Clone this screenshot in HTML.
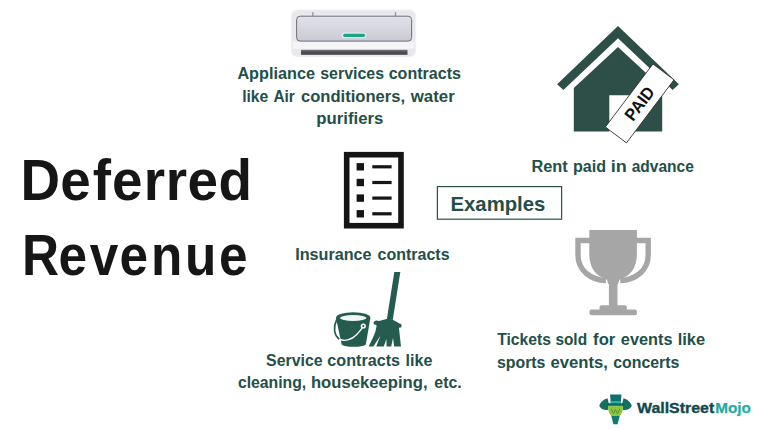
<!DOCTYPE html>
<html><head><meta charset="utf-8">
<style>
html,body{margin:0;padding:0;background:#fff;}
body{width:766px;height:429px;overflow:hidden;}
svg{display:block}
text{font-family:"Liberation Sans",sans-serif;font-weight:bold;}
</style></head><body>
<svg width="766" height="429" viewBox="0 0 766 429">
<rect width="766" height="429" fill="#fff"/>
<defs>
<linearGradient id="acp" x1="0" y1="0" x2="0" y2="1"><stop offset="0" stop-color="#e1e1e7"/><stop offset="0.5" stop-color="#d6d6de"/><stop offset="1" stop-color="#c9c9d4"/></linearGradient>
<linearGradient id="acv" x1="0" y1="0" x2="0" y2="1"><stop offset="0" stop-color="#74747e"/><stop offset="0.5" stop-color="#4c4c55"/><stop offset="1" stop-color="#45454d"/></linearGradient>
<linearGradient id="mj" x1="0" y1="0" x2="1" y2="0"><stop offset="0" stop-color="#178f8d"/><stop offset="1" stop-color="#22b3a6"/></linearGradient>
</defs>
<!-- AC unit -->
<g id="ac">
<rect x="290.6" y="9.2" width="125.6" height="48" rx="7" fill="#f4f4f6"/>
<rect x="291.8" y="10.2" width="123.4" height="46.4" rx="6" fill="#e9e9ed"/>
<rect x="293" y="41.8" width="121" height="7" fill="#f5f5f8"/>
<rect x="312.2" y="12" width="1.3" height="4.2" fill="#94949c"/>
<rect x="394.8" y="12" width="1.3" height="4.2" fill="#94949c"/>
<rect x="296.6" y="16.2" width="115" height="24.9" rx="3.5" fill="url(#acp)" stroke="#6f6f7a" stroke-width="1"/>
<rect x="341.6" y="32.6" width="25" height="5.6" rx="2.8" fill="#e4f1ee" opacity="0.8"/>
<rect x="343.1" y="33.7" width="22" height="3.3" rx="1.65" fill="#1ba588"/>
<rect x="301" y="49.8" width="106.5" height="5" fill="url(#acv)"/>
</g>
<!-- House -->
<g id="house" fill="#2d4f47">
<polygon points="618,26.1 557.1,84.3 563.4,89.9 618,38.3 672.6,89.9 678.9,84.3"/>
<polygon points="618,47 573.8,88 573.8,131.5 609.3,131.5 609.3,95.3 633,95.3 633,131.5 662.2,131.5 662.2,88"/>
</g>
<g transform="translate(639.7,103.4) rotate(-53)">
<rect x="-39.5" y="-13.2" width="79" height="26.4" fill="#fff" stroke="#2a2a2a" stroke-width="0.8"/>
<text x="-18.8" y="5.9" font-size="17.2" fill="#111" textLength="37.2" lengthAdjust="spacingAndGlyphs">PAID</text>
</g>
<!-- Insurance list icon -->
<rect x="346.7" y="154.7" width="54.3" height="71" fill="#fff" stroke="#151515" stroke-width="5.6"/>
<g fill="#151515">
<rect x="356.6" y="163.1" width="7.4" height="7.4"/><rect x="372.3" y="165.2" width="19.3" height="3.2"/>
<rect x="356.6" y="178.8" width="7.4" height="7.4"/><rect x="372.3" y="180.9" width="19.3" height="3.2"/>
<rect x="356.6" y="194.4" width="7.4" height="7.4"/><rect x="372.3" y="196.5" width="19.3" height="3.2"/>
<rect x="356.6" y="210.1" width="7.4" height="7.4"/><rect x="372.3" y="212.2" width="19.3" height="3.2"/>
</g>
<!-- Examples box -->
<rect x="437.4" y="186.6" width="124.2" height="32.6" fill="#fff" stroke="#2b5248" stroke-width="1.2"/>
<!-- Bucket & mop -->
<g id="mop" fill="#245c4f">
<path d="M336.8,319.5 C333.4,326 333.4,335 339.4,339.2" fill="none" stroke="#245c4f" stroke-width="1.7"/>
<path d="M336.1,318.5 L370.3,318.5 L365.8,344.5 C363,347.6 344.5,347.6 341.7,344.5 Z"/>
<ellipse cx="353.2" cy="317.9" rx="17.2" ry="5.7"/>
<ellipse cx="353.2" cy="318" rx="13.2" ry="2.9" fill="#f1f5f3"/>
<path d="M339.4,339.2 C344,341.6 351.5,340.2 356.5,334.8 C359,332 361,329.6 362.3,327.8" fill="none" stroke="#fff" stroke-width="1.3"/>
<circle cx="363.3" cy="326" r="2.6" fill="#fff"/>
<circle cx="363.3" cy="326" r="1.1"/>
<polygon points="394.3,271.9 400.3,271.9 392.8,319.8 386.8,319.6"/>
<path d="M373.6,322.6 C373.9,320.4 377,319.8 379,321 L387.5,318.8 L392.2,319.4 L399.5,323.4 C402.2,323.8 402.4,327.2 400,327.7 L398.9,327.5 L401,346.4 L394.2,346.4 L393,338 L391.2,346.4 L386.6,346.4 L386.4,339 L383.8,346.4 L376.2,346.4 L380.5,335.5 L373.4,346.4 L368.7,346.4 C373,338 376.5,331 376.5,325 C375,325 373.3,324.4 373.6,322.6 Z"/>
</g>
<!-- Trophy -->
<g id="trophy" fill="#a6a6a6">
<path d="M589.3,230 H636.9 V254 C636.9,268 630,276.5 619.5,279.5 L618,284 H608.4 L606.8,279.5 C596.2,276.5 589.3,268 589.3,254 Z"/>
<path d="M590,240.5 H578 V255 C578,270 590,279.8 606,280.6" fill="none" stroke="#a6a6a6" stroke-width="5.4"/>
<path d="M636.2,240.5 H648.2 V255 C648.2,270 636.2,279.8 620.2,280.6" fill="none" stroke="#a6a6a6" stroke-width="5.4"/>
<rect x="608.9" y="280" width="8.6" height="27"/>
<rect x="599.6" y="305.3" width="27.2" height="6" rx="2"/>
<rect x="589.5" y="309.5" width="47.4" height="5.7" rx="2"/>
</g>
<!-- Logo icon -->
<g id="logo">
<path d="M599.2,405.8 C600.4,402 604,399.4 607.5,398.3 L608.8,403.4 L608.2,409.9 C604.6,410.6 600.5,409.2 599.2,405.8 Z" fill="#15705f"/>
<path d="M631.8,405.8 C630.6,402 627,399.4 623.5,398.3 L622.2,403.4 L622.8,409.9 C626.4,410.6 630.5,409.2 631.8,405.8 Z" fill="#15705f"/>
<path d="M608.2,405.5 H622.8 C623.3,410 622,414 619.5,416.3 H611.5 C609,414 607.7,410 608.2,405.5 Z" fill="#8cc63f"/>
<path d="M611.2,409 L613.6,413.5 L615.5,409.5 L617.4,413.5 L619.8,409" fill="none" stroke="#4f9a3a" stroke-width="1"/>
<path d="M611.3,416 H619.7 L617.6,424.3 H613.4 Z" fill="#157a6e"/>
<path d="M610,394.6 H621.5 L620.6,403.4 H610.9 Z" fill="#0f6e70"/>
<rect x="610.6" y="401" width="10.3" height="2.2" fill="#2ab58f"/>
<rect x="607.4" y="403.3" width="16.2" height="2.5" rx="1.2" fill="#0f5f66"/>
</g>
<text transform="translate(0 199.7) scale(0.9614 1)" x="21.25 62.80 96.48 116.42 149.41 172.35 195.00 227.16" y="0" font-size="57" fill="#161616">Deferred</text>
<text transform="translate(0 274.7) scale(0.8998 1)" x="24.44 64.97 99.74 132.82 167.90 205.74 243.45" y="0" font-size="57" fill="#161616">Revenue</text>
<text y="78.8" font-size="17.2" fill="#234f48"><tspan x="237.41" textLength="77.52" lengthAdjust="spacingAndGlyphs">Appliance</tspan> <tspan x="320.28" textLength="63.72" lengthAdjust="spacingAndGlyphs">services</tspan> <tspan x="388.68" textLength="72.24" lengthAdjust="spacingAndGlyphs">contracts</tspan></text>
<text y="101.6" font-size="17.2" fill="#234f48"><tspan x="242.13" textLength="26.16" lengthAdjust="spacingAndGlyphs">like</tspan> <tspan x="273.46" textLength="21.42" lengthAdjust="spacingAndGlyphs">Air</tspan> <tspan x="300.99" textLength="104.11" lengthAdjust="spacingAndGlyphs">conditioners,</tspan> <tspan x="410.79" textLength="43.90" lengthAdjust="spacingAndGlyphs">water</tspan></text>
<text y="124.4" font-size="17.2" fill="#234f48"><tspan x="316.31" textLength="66.97" lengthAdjust="spacingAndGlyphs">purifiers</tspan></text>
<text y="171.8" font-size="17.2" fill="#234f48"><tspan x="531.46" textLength="36.28" lengthAdjust="spacingAndGlyphs">Rent</tspan> <tspan x="572.88" textLength="33.13" lengthAdjust="spacingAndGlyphs">paid</tspan> <tspan x="610.84" textLength="16.04" lengthAdjust="spacingAndGlyphs">in</tspan> <tspan x="631.66" textLength="62.11" lengthAdjust="spacingAndGlyphs">advance</tspan></text>
<text y="259.9" font-size="17.2" fill="#234f48"><tspan x="295.18" textLength="76.42" lengthAdjust="spacingAndGlyphs">Insurance</tspan> <tspan x="377.61" textLength="71.92" lengthAdjust="spacingAndGlyphs">contracts</tspan></text>
<text y="211.0" font-size="21" fill="#234f48"><tspan x="450.54" textLength="94.80" lengthAdjust="spacingAndGlyphs">Examples</tspan></text>
<text y="365.6" font-size="17.2" fill="#234f48"><tspan x="266.11" textLength="56.49" lengthAdjust="spacingAndGlyphs">Service</tspan> <tspan x="327.37" textLength="72.70" lengthAdjust="spacingAndGlyphs">contracts</tspan> <tspan x="405.60" textLength="26.72" lengthAdjust="spacingAndGlyphs">like</tspan></text>
<text y="388.4" font-size="17.2" fill="#234f48"><tspan x="237.91" textLength="68.33" lengthAdjust="spacingAndGlyphs">cleaning,</tspan> <tspan x="310.95" textLength="116.63" lengthAdjust="spacingAndGlyphs">housekeeping,</tspan> <tspan x="434.31" textLength="27.38" lengthAdjust="spacingAndGlyphs">etc.</tspan></text>
<text y="344.9" font-size="17.2" fill="#234f48"><tspan x="497.23" textLength="53.75" lengthAdjust="spacingAndGlyphs">Tickets</tspan> <tspan x="555.39" textLength="31.70" lengthAdjust="spacingAndGlyphs">sold</tspan> <tspan x="593.12" textLength="22.19" lengthAdjust="spacingAndGlyphs">for</tspan> <tspan x="620.83" textLength="51.64" lengthAdjust="spacingAndGlyphs">events</tspan> <tspan x="677.70" textLength="27.46" lengthAdjust="spacingAndGlyphs">like</tspan></text>
<text y="367.7" font-size="17.2" fill="#234f48"><tspan x="496.91" textLength="48.54" lengthAdjust="spacingAndGlyphs">sports</tspan> <tspan x="550.59" textLength="57.29" lengthAdjust="spacingAndGlyphs">events,</tspan> <tspan x="613.17" textLength="66.18" lengthAdjust="spacingAndGlyphs">concerts</tspan></text>
<text y="413.1" font-size="15" fill="#12484d"><tspan x="637.00" textLength="77.19" lengthAdjust="spacingAndGlyphs" stroke="#12484d" stroke-width="0.35">WallStreet</tspan><tspan x="715.21" textLength="35.68" lengthAdjust="spacingAndGlyphs" fill="url(#mj)" stroke="#1ea79c" stroke-width="0.25">Mojo</tspan></text></svg>
</body></html>
